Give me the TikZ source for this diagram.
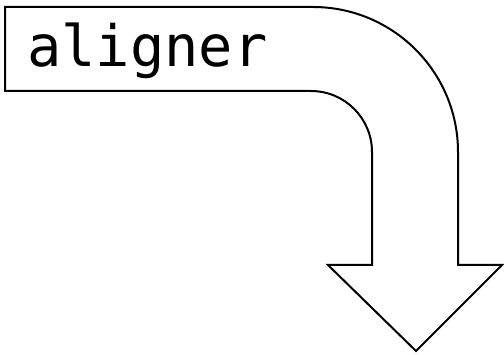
\documentclass[tikz,border=0pt]{standalone}
\usepackage{fontspec}
\setmonofont{DejaVu Sans Mono}
\usetikzlibrary{positioning}

\begin{document}
\begin{tikzpicture}[x=1pt, y=-1pt,
    bentarrow/.style={draw, line width=2pt, line join=miter, fill=white},
    label text/.style={font=\ttfamily\fontsize{57}{60}\selectfont, anchor=base west, inner sep=0pt}]
    \useasboundingbox (0,0) rectangle (504,355);
    % outline of the bent arrow
    \draw[bentarrow] (5,7) -- (313,7) arc (-90:0:145) -- (458,265) -- (502,265)
        -- (416,351) -- (328,265) -- (372,265) -- (372,152) arc (0:-90:61)
        -- (5,91) -- cycle;
    \node[label text] (word) at (27,67) {aligner};
\end{tikzpicture}
\end{document}
